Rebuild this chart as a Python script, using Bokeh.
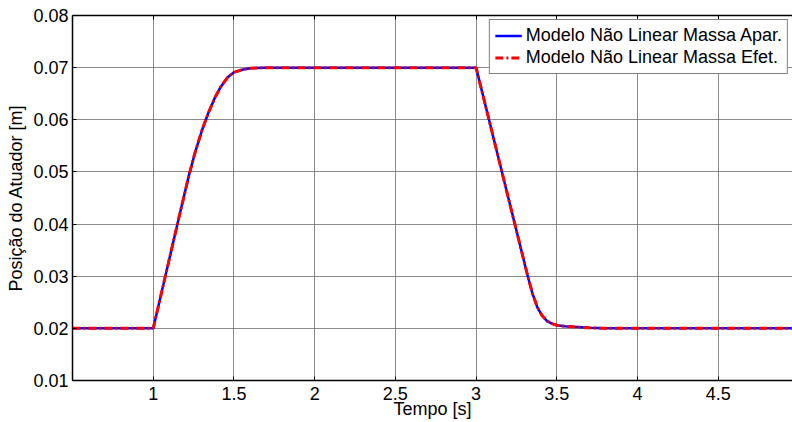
from bokeh.plotting import figure
from bokeh.models import (FixedTicker, PrintfTickFormatter, LinearAxis, Range1d, Legend, LegendItem,
                          CustomLabelingPolicy)
from bokeh.embed import file_html
from bokeh.resources import INLINE

# Data
tempo_apar = [0.5, 1.0, 1.075, 1.15, 1.22, 1.26, 1.30, 1.34, 1.38, 1.42, 1.46, 1.5, 1.55, 1.6, 1.7,
              3.0, 3.08, 3.16, 3.24, 3.32, 3.35, 3.38, 3.41, 3.44, 3.47, 3.5, 3.55, 3.6, 3.7, 3.8, 5.0]
pos_apar = [0.02, 0.02, 0.03, 0.04, 0.0492, 0.0538, 0.0578, 0.0612, 0.0641, 0.0664, 0.0681, 0.0691, 0.0696, 0.0699, 0.07,
            0.07, 0.06, 0.05, 0.04, 0.03, 0.0266, 0.024, 0.0224, 0.0214, 0.0209, 0.0206, 0.0204, 0.0203, 0.0201, 0.02, 0.02]
tempo_efet = [0.5, 1.0, 1.075, 1.15, 1.22, 1.26, 1.30, 1.34, 1.38, 1.42, 1.46, 1.5, 1.55, 1.6, 1.7,
              3.0, 3.08, 3.16, 3.24, 3.32, 3.35, 3.38, 3.41, 3.44, 3.47, 3.5, 3.55, 3.6, 3.7, 3.8, 5.0]
pos_efet = [0.02, 0.02, 0.03, 0.04, 0.0492, 0.0538, 0.0578, 0.0612, 0.0641, 0.0664, 0.0681, 0.0691, 0.0696, 0.0699, 0.07,
            0.07, 0.06, 0.05, 0.04, 0.03, 0.0266, 0.024, 0.0224, 0.0214, 0.0209, 0.0206, 0.0204, 0.0203, 0.0201, 0.02, 0.02]

x_ticks = [1, 1.5, 2, 2.5, 3, 3.5, 4, 4.5]
x_tick_labels = ["1", "1.5", "2", "2.5", "3", "3.5", "4", "4.5"]
y_ticks = [0.01, 0.02, 0.03, 0.04, 0.05, 0.06, 0.07, 0.08]

series_names = ["Modelo Não Linear Massa Apar.", "Modelo Não Linear Massa Efet."]
x_label = "Tempo [s]"
y_label = "Posição do Atuador [m]"

FONT = "Liberation Sans"
FS = "18px"

p = figure(width=792, height=422, output_backend="svg", toolbar_location=None,
           x_range=Range1d(0.5, 4.96), y_range=Range1d(0.01, 0.08),
           min_border_left=72, min_border_right=0, min_border_top=15, min_border_bottom=42)
p.outline_line_color = None
p.background_fill_color = "white"
p.border_fill_color = "white"

xa = p.xaxis[0]
xa.ticker = FixedTicker(ticks=x_ticks)
xa.major_label_overrides = {t: l for t, l in zip(x_ticks, x_tick_labels)}
xa.axis_label = x_label
ya = p.yaxis[0]
ya.ticker = FixedTicker(ticks=y_ticks)
ya.formatter = PrintfTickFormatter(format="%.2f")
ya.axis_label = y_label

for ax in (xa, ya):
    ax.axis_line_color = "black"
    ax.axis_line_width = 1.5
    ax.major_tick_in = 4
    ax.major_tick_out = 0
    ax.major_tick_line_color = "black"
    ax.minor_tick_line_color = None
    ax.major_label_text_font = FONT
    ax.major_label_text_font_size = FS
    ax.major_label_text_color = "black"
    ax.axis_label_text_font = FONT
    ax.axis_label_text_font_size = FS
    ax.axis_label_text_font_style = "normal"
    ax.axis_label_text_color = "black"
xa.major_label_standoff = 6
xa.axis_label_standoff = -4
ya.major_label_standoff = 4
ya.axis_label_standoff = 4

no_labels = CustomLabelingPolicy(code="""
for (const i of Array.from(indices)) { indices.unset(i) }
return indices
""")
top = LinearAxis(ticker=FixedTicker(ticks=x_ticks), major_label_policy=no_labels,
                 major_tick_in=4, major_tick_out=0, minor_tick_line_color=None,
                 axis_line_color="black", axis_line_width=1.5, major_label_standoff=0)
p.add_layout(top, "above")

p.xgrid.ticker = FixedTicker(ticks=x_ticks)
p.ygrid.ticker = FixedTicker(ticks=y_ticks)
for g in (p.xgrid, p.ygrid):
    g.grid_line_color = "#6e6e6e"
    g.grid_line_alpha = 0.8
    g.grid_line_width = 1

r1 = p.line(tempo_apar, pos_apar, line_color="#0000ff", line_width=2.5)
r2 = p.line(tempo_efet, pos_efet, line_color="#ff0000", line_width=3, line_dash="8 3 2 3")

legend = Legend(items=[LegendItem(label=series_names[0], renderers=[r1]),
                       LegendItem(label=series_names[1], renderers=[r2])],
                location="top_right")
legend.border_line_color = "black"
legend.border_line_width = 1
legend.background_fill_alpha = 1
legend.label_text_font = FONT
legend.label_text_font_size = FS
legend.label_text_color = "black"
legend.label_height = 21
legend.glyph_height = 21
legend.glyph_width = 27
legend.label_standoff = 4
legend.spacing = 1
legend.padding = 5
legend.margin = 4
p.add_layout(legend)

open("out.html", "w").write(file_html(p, INLINE))
